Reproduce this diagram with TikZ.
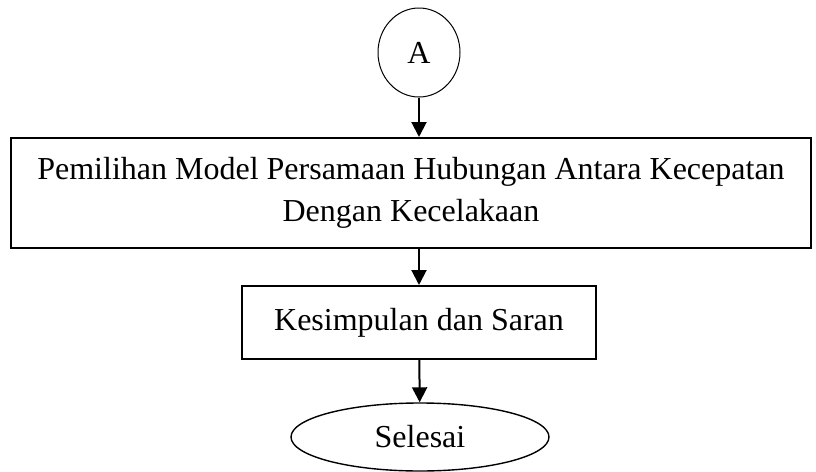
\documentclass[tikz,border=0pt]{standalone}
\usepackage{fontspec}
\setmainfont{Liberation Serif}
\usetikzlibrary{arrows.meta,shapes.geometric}

\begin{document}
\begin{tikzpicture}[x=0.5pt, y=-0.5pt,
        kotak/.style={draw, line width=1pt, rectangle, inner sep=0pt, align=center,
            font=\fontsize{16}{21}\selectfont},
        panah/.style={-{Triangle[width=7.5pt, length=7.5pt]}, line width=1pt}]
            \useasboundingbox (0, 0) rectangle (816, 472);
            \node [ellipse, draw, line width=0.5pt, minimum width=41pt, minimum height=44.5pt,
                inner sep=0pt, font=\fontsize{16}{19}\selectfont] (A) at (419, 52.5) {A};
            \node [kotak, minimum width=400pt, minimum height=55pt] (pilih) at (411, 193)
                {Pemilihan Model Persamaan Hubungan Antara Kecepatan\\Dengan Kecelakaan};
            \node [kotak, minimum width=177pt, minimum height=36.5pt] (simpul) at (419, 322.5)
                {Kesimpulan dan Saran};
            \node [ellipse, draw, line width=0.7pt, minimum width=129pt, minimum height=34pt,
                inner sep=0pt, font=\fontsize{16}{19}\selectfont] (selesai) at (420, 437) {Selesai};
            \draw [panah] (A) -- (A |- pilih.north);
            \draw [panah] (pilih.south -| simpul) -- (simpul);
            \draw [panah] (simpul) -- (selesai);
        \end{tikzpicture}
\end{document}
